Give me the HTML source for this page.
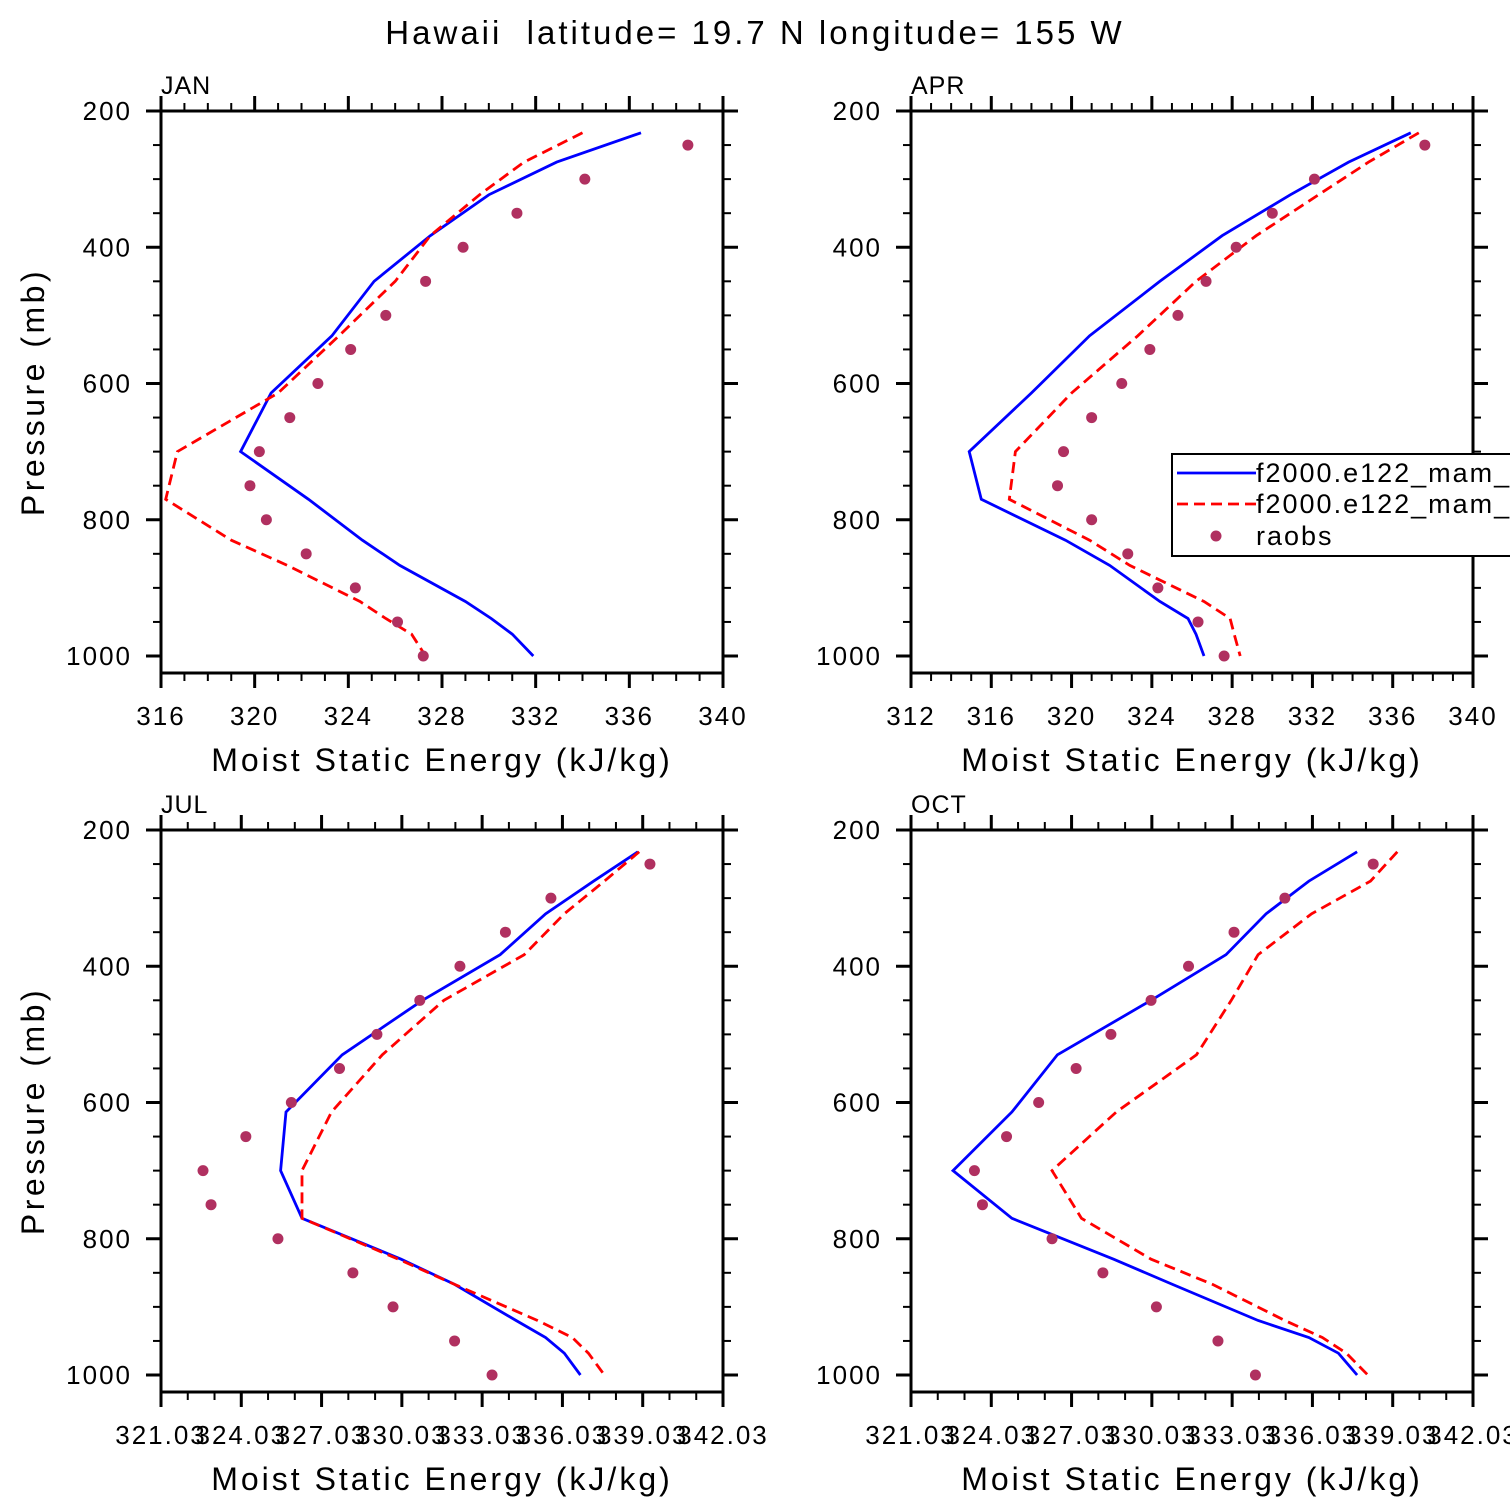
<!DOCTYPE html>
<html><head><meta charset="utf-8"><style>
html,body{margin:0;padding:0;background:#fff;width:1510px;height:1510px;overflow:hidden}
svg text{font-family:"Liberation Sans",sans-serif;fill:#000;white-space:pre}
</style></head><body>
<svg id="c" width="1510" height="1510" xmlns="http://www.w3.org/2000/svg">
<text x="755" y="44" font-size="33" text-anchor="middle" letter-spacing="3">Hawaii  latitude= 19.7 N longitude= 155 W</text>
</svg>
<script>
const modelLevels=[232,275,323,383,450,530,614,700,770,830,867,920,945,968,1000];
const obsLevels=[250,300,350,400,450,500,550,600,650,700,750,800,850,900,950,1000];
const janBlue=[336.5,332.9,330.0,327.5,325.1,323.3,320.7,319.4,322.3,324.6,326.2,329.0,330.1,331.0,331.9];
const janRed=[334.0,331.5,329.6,327.5,326.0,323.6,321.0,316.7,316.2,319.0,321.4,324.5,325.6,326.7,327.3];
const janObs=[338.5,334.1,331.2,328.9,327.3,325.6,324.1,322.7,321.5,320.2,319.8,320.5,322.2,324.3,326.1,327.2];
const aprBlue=[336.9,333.8,330.9,327.5,324.4,320.9,318.0,314.9,315.5,319.7,321.9,324.4,325.8,326.2,326.6];
const aprRed=[337.3,334.8,332.3,329.2,326.2,323.3,320.0,317.2,316.9,320.9,322.9,326.6,327.9,328.1,328.4];
const aprObs=[337.6,332.1,330.0,328.2,326.7,325.3,323.9,322.5,321.0,319.6,319.3,321.0,322.8,324.3,326.3,327.6];
const julBlue=[338.85,337.2,335.4,333.7,330.8,327.8,325.7,325.5,326.3,330.0,332.0,334.3,335.4,336.1,336.7];
const julRed=[338.9,337.6,336.1,334.6,331.6,329.3,327.4,326.3,326.3,329.9,332.0,335.1,336.4,337.0,337.6];
const julObs=[339.3,335.6,333.9,332.2,330.7,329.1,327.7,325.9,324.2,322.6,322.9,325.4,328.2,329.7,332.0,333.4];
const octBlue=[337.7,335.9,334.3,332.8,330.0,326.5,324.8,322.6,324.8,328.6,330.8,334.0,335.9,337.0,337.7];
const octRed=[339.2,338.2,336.0,334.0,333.0,331.7,328.7,326.3,327.4,330.0,332.3,335.0,336.4,337.3,338.1];
const octObs=[338.3,335.0,333.1,331.4,330.0,328.5,327.2,325.8,324.6,323.4,323.7,326.3,328.2,330.2,332.5,333.9];
const yTicks=[200,400,600,800,1000];
const janXTicks=[316,320,324,328,332,336,340];
const aprXTicks=[312,316,320,324,328,332,336,340];
const julXTicks=[321.03,324.03,327.03,330.03,333.03,336.03,339.03,342.03];
const legendLabels=["f2000.e122_mam_ctrl","f2000.e122_mam_ctrl","raobs"];

const NS="http://www.w3.org/2000/svg";
const svg=document.getElementById('c');
function mk(tag,attrs,parent){const e=document.createElementNS(NS,tag);for(const k in attrs)e.setAttribute(k,attrs[k]);(parent||svg).appendChild(e);return e;}

function panel(name,L,T,xmin,xmax,xticks,minorStep,fmt,blue,red,obs,showYTitle){
  const W=562,H=562;
  const g=mk('g',{});
  
  
  const x=v=>L+(v-xmin)/(xmax-xmin)*W;
  const y=p=>T+(p-200)*0.68125;
  const B=T+H,R=L+W;
  const f=mk('rect',{x:L,y:T,width:W,height:H,fill:'none',stroke:'#000','stroke-width':3},g);
  
  
  for(let v=xmin;v<=xmax+1e-6;v+=minorStep){
    const isMaj=xticks.some(t=>Math.abs(t-v)<1e-6);
    const len=isMaj?15:8;const xx=x(v);
    mk('line',{x1:xx,x2:xx,y1:B,y2:B+len,stroke:'#000','stroke-width':isMaj?3:2},g);
    mk('line',{x1:xx,x2:xx,y1:T,y2:T-len,stroke:'#000','stroke-width':isMaj?3:2},g);
  }
  xticks.forEach(t=>{const tx=mk('text',{x:x(t),y:B+52,'font-size':26,'text-anchor':'middle','letter-spacing':2},g);tx.textContent=fmt(t);
    });
  for(let p=200;p<=1000;p+=50){
    const isMaj=p%200===0;const len=isMaj?15:8;const yy=y(p);
    mk('line',{x1:L,x2:L-len,y1:yy,y2:yy,stroke:'#000','stroke-width':isMaj?3:2},g);
    mk('line',{x1:R,x2:R+len,y1:yy,y2:yy,stroke:'#000','stroke-width':isMaj?3:2},g);
  }
  yTicks.forEach(p=>{const tx=mk('text',{x:L-29,y:y(p)+9,'font-size':26,'text-anchor':'end','letter-spacing':2},g);tx.textContent=p;
    });
  const xt=mk('text',{x:L+W/2,y:B+98,'font-size':32,'text-anchor':'middle','letter-spacing':3},g);
  xt.textContent='Moist Static Energy (kJ/kg)';
  
  const mt=mk('text',{x:L,y:T-17,'font-size':25,'letter-spacing':1},g);mt.textContent=name.toUpperCase();
  
  if(showYTitle){
    const yt=mk('text',{x:0,y:0,'font-size':32,'text-anchor':'middle','letter-spacing':3.5,transform:`translate(44,${T+H/2}) rotate(-90)`},g);
    yt.textContent='Pressure (mb)';
    
  }
  const bp=blue.map((v,i)=>x(v).toFixed(1)+','+y(modelLevels[i]).toFixed(1)).join(' ');
  const bl=mk('polyline',{points:bp,fill:'none',stroke:'#0000ff','stroke-width':2.8},g);
  
  const rp=red.map((v,i)=>x(v).toFixed(1)+','+y(modelLevels[i]).toFixed(1)).join(' ');
  const rl=mk('polyline',{points:rp,fill:'none',stroke:'#ff0000','stroke-width':2.8,'stroke-dasharray':'11,6'},g);
  
  obs.forEach((v,i)=>{const c=mk('circle',{cx:x(v),cy:y(obsLevels[i]),r:5.5,fill:'#b03060'},g);
    });
  return g;
}
const f0=v=>String(v);
const fj=v=>v.toFixed(2);
panel('jan',161,111,316,340,janXTicks,1,f0,janBlue,janRed,janObs,true);
panel('apr',911,111,312,340,aprXTicks,1,f0,aprBlue,aprRed,aprObs,false);
panel('jul',161,830,321.03,342.03,julXTicks,1,fj,julBlue,julRed,julObs,true);
panel('oct',911,830,321.03,342.03,julXTicks,1,fj,octBlue,octRed,octObs,false);

const lg=mk('g',{});


mk('rect',{x:1172,y:454,width:400,height:102,fill:'#fff',stroke:'#000','stroke-width':2},lg);
mk('line',{x1:1177,x2:1256,y1:473,y2:473,stroke:'#0000ff','stroke-width':2.8},lg);
mk('line',{x1:1177,x2:1256,y1:504,y2:504,stroke:'#ff0000','stroke-width':2.8,'stroke-dasharray':'11,6'},lg);
mk('circle',{cx:1216,cy:536,r:5.5,fill:'#b03060'},lg);
[482,513,545].forEach((yy,i)=>{const t=mk('text',{x:1256,y:yy,'font-size':27,'letter-spacing':2},lg);t.textContent=legendLabels[i];
  });
</script>
</body></html>
